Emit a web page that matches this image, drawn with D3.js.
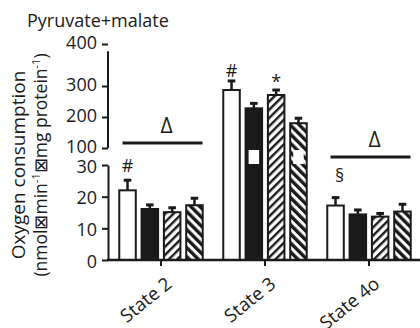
<!DOCTYPE html>
<html><head><meta charset="utf-8">
<script src="https://cdn.jsdelivr.net/npm/d3@7"></script>
<style>
body{margin:0;background:#fff;}
svg{display:block;}
text{font-family:"Open Sans","Noto Sans",sans-serif;fill:#1a1a1a;}
</style>
</head><body>
<svg id="chart" width="420" height="328"></svg>
<script>
// ---- data ----
const groups = ["State 2", "State 3", "State 4o"];
const seriesKeys = ["s1", "s2", "s3", "s4"];
const valuesS1 = [22.0, 287, 17.2];
const valuesS2 = [16.1, 228, 14.4];
const valuesS3 = [15.1, 271, 13.7];
const valuesS4 = [17.3, 180, 15.3];
const errorsS1 = [3.2, 25, 2.5];
const errorsS2 = [1.3, 16, 1.4];
const errorsS3 = [1.4, 16, 1.0];
const errorsS4 = [2.2, 16, 2.3];
const ticksLow = [0, 10, 20, 30];
const ticksHigh = [100, 200, 300, 400];
const titleText = "Pyruvate+malate";
const yLabelLine1 = "Oxygen consumption";
// significance lines (value in axis units)
const sigGroups = ["State 2", "State 4o"];
const sigValues = [116, 63];
const sigSymbols = ["\u0394", "\u0394"];
// markers above bars
const markGroups = ["State 2", "State 3", "State 3", "State 4o"];
const markSeries = [0, 0, 2, 0];
const markSymbols = ["#", "#", "*", "\u00a7"];
const markValues = [27.8, 321, 292, 24.6];

const seriesValues = [valuesS1, valuesS2, valuesS3, valuesS4];
const seriesErrors = [errorsS1, errorsS2, errorsS3, errorsS4];

// ---- setup ----
const svg = d3.select("#chart");
const ink = "#1a1a1a";
const FS = 18;
const defs = svg.append("defs");
const pA = defs.append("pattern").attr("id", "hatchA").attr("patternUnits", "userSpaceOnUse")
  .attr("width", 5.8).attr("height", 10).attr("patternTransform", "rotate(45)");
pA.append("rect").attr("width", 5.8).attr("height", 10).attr("fill", "#fff");
pA.append("rect").attr("width", 2.4).attr("height", 10).attr("fill", ink);
const pB = defs.append("pattern").attr("id", "hatchB").attr("patternUnits", "userSpaceOnUse")
  .attr("width", 6.4).attr("height", 10).attr("patternTransform", "rotate(-45)");
pB.append("rect").attr("width", 6.4).attr("height", 10).attr("fill", "#fff");
pB.append("rect").attr("width", 3.4).attr("height", 10).attr("fill", ink);
const fills = ["#fff", ink, "url(#hatchA)", "url(#hatchB)"];

const axisX = 108, baseY = 260;
const y = d3.scaleLinear().domain([0, 30, 100, 300, 400]).range([baseY, 165, 148, 86, 44]);
const x = d3.scaleBand().domain(groups).range([axisX + 1, 421]).paddingInner(0.144).paddingOuter(0.072);
const xs = d3.scaleBand().domain(seriesKeys).range([0, x.bandwidth()]).paddingInner(0.26).paddingOuter(0.125);

// ---- bars ----
const gBars = svg.append("g");
groups.forEach((g, gi) => {
  seriesKeys.forEach((k, si) => {
    const v = seriesValues[si][gi], e = seriesErrors[si][gi];
    const bx = x(g) + xs(k), bw = xs.bandwidth(), cx = bx + bw / 2;
    gBars.append("line").attr("x1", cx).attr("x2", cx).attr("y1", y(v)).attr("y2", y(v + e))
      .attr("stroke", ink).attr("stroke-width", 2.5);
    gBars.append("line").attr("x1", cx - 3.8).attr("x2", cx + 3.8).attr("y1", y(v + e)).attr("y2", y(v + e))
      .attr("stroke", ink).attr("stroke-width", 3);
    gBars.append("rect").attr("x", bx).attr("y", y(v)).attr("width", bw).attr("height", y(0) - y(v))
      .attr("fill", fills[si]).attr("stroke", ink).attr("stroke-width", 2);
    if (v > 100 && si !== 2) {
      gBars.append("rect").attr("x", bx + 3).attr("width", bw - 6)
        .attr("y", y(100) + 2).attr("height", y(30) - y(100) - 3).attr("fill", "#fff");
    }
  });
});

// ---- y axes ----
const yLow = d3.scaleLinear().domain([0, 30]).range([y(0), y(30)]);
const axLow = svg.append("g").attr("transform", `translate(${axisX},0)`)
  .call(d3.axisLeft(yLow).tickValues(ticksLow).tickSize(6).tickSizeOuter(0).tickPadding(5));
const axHigh = svg.append("g").attr("transform", `translate(${axisX},0)`)
  .call(d3.axisLeft(y).tickValues(ticksHigh).tickSize(6).tickSizeOuter(0).tickPadding(5));
axHigh.select(".domain").remove();
svg.append("line").attr("x1", axisX).attr("x2", axisX).attr("y1", y(100)).attr("y2", y(383))
  .attr("stroke", ink).attr("stroke-width", 2);
[axLow, axHigh].forEach(a => {
  a.selectAll("path,line").attr("stroke", ink).attr("stroke-width", 2);
  a.selectAll("text").attr("font-size", FS).attr("font-family", "\"Open Sans\",sans-serif").attr("fill", ink);
});
axHigh.selectAll(".tick text").attr("dy", "0.24em");
axLow.selectAll(".tick text").attr("dy", "0.4em");

// ---- x axis ----
svg.append("line").attr("x1", axisX - 1).attr("x2", 420).attr("y1", baseY).attr("y2", baseY)
  .attr("stroke", ink).attr("stroke-width", 2.5);
const gx = svg.append("g");
groups.forEach(g => {
  const cx = x(g) + x.bandwidth() / 2;
  gx.append("line").attr("x1", cx).attr("x2", cx).attr("y1", baseY).attr("y2", baseY + 6)
    .attr("stroke", ink).attr("stroke-width", 2);
  gx.append("text").attr("transform", `translate(${cx + 12},${baseY + 26}) rotate(-39)`)
    .attr("text-anchor", "end").attr("font-size", 18.5).text(g);
});

// ---- significance ----
sigGroups.forEach((g, i) => {
  const x0 = x(g) + 6, x1 = x(g) + x.bandwidth() - 3, yy = y(sigValues[i]);
  svg.append("line").attr("x1", x0).attr("x2", x1).attr("y1", yy).attr("y2", yy)
    .attr("stroke", ink).attr("stroke-width", 3);
  svg.append("text").attr("x", (x0 + x1) / 2 + 4).attr("y", yy - 10).attr("text-anchor", "middle")
    .attr("font-size", 21).text(sigSymbols[i]);
});
markGroups.forEach((g, i) => {
  const cx = x(g) + xs(seriesKeys[markSeries[i]]) + xs.bandwidth() / 2;
  svg.append("text").attr("x", cx + (markSymbols[i] === "\u00a7" ? 4 : 0)).attr("y", y(markValues[i]))
    .attr("text-anchor", "middle").attr("font-size", FS).text(markSymbols[i]);
});

// ---- titles ----
svg.append("text").attr("x", 27).attr("y", 27).attr("font-size", FS).text(titleText);
const yl = svg.append("g").attr("transform", "translate(0,165) rotate(-90)");
yl.append("text").attr("x", 0).attr("y", 25).attr("text-anchor", "middle").attr("font-size", 19).text(yLabelLine1);
const t2 = yl.append("text").attr("x", 0).attr("y", 47).attr("text-anchor", "middle").attr("font-size", 17.5);
t2.append("tspan").text("(nmol\u22a0min");
t2.append("tspan").attr("dy", -7).attr("font-size", 11).text("-1");
t2.append("tspan").attr("dy", 7).text("\u22a0mg protein");
t2.append("tspan").attr("dy", -7).attr("font-size", 11).text("-1");
t2.append("tspan").attr("dy", 7).text(")");
</script>
</body></html>
